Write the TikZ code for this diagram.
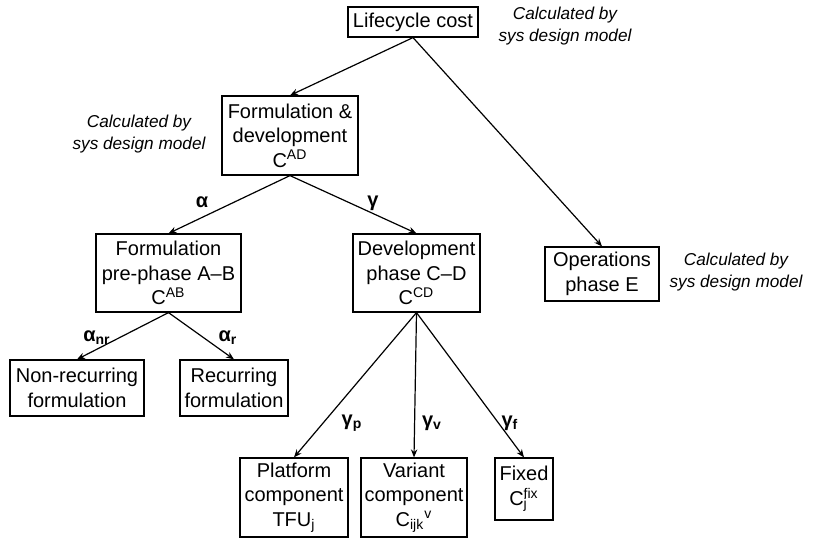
\documentclass[tikz,border=0pt]{standalone}
\usepackage{fontspec}
\setmainfont{Liberation Sans}
\usepackage{tikz}
\usetikzlibrary{arrows.meta}
\tikzset{
  costbox/.style={draw, line width=0.6pt, inner sep=0pt, align=center,
    font=\fontsize{10}{12.25}\selectfont},
  calcnote/.style={align=center, font=\fontsize{8.6}{11}\selectfont\itshape},
  share/.style={font=\fontsize{10}{12}\selectfont\bfseries},
  costarrow/.style={line width=0.6pt, -{Stealth[length=4pt,width=3.2pt]}}
}

\begin{document}
\begin{tikzpicture}[x=0.5pt,y=-0.5pt]
\useasboundingbox (0,0) rectangle (814,540);
\node[costbox, minimum width=65pt, minimum height=15pt] (life) at (413,22) {Lifecycle cost};
\node[costbox, minimum width=68pt, minimum height=39.5pt] (fd) at (290,135.5) {Formulation \&\\development\\C\textsuperscript{AD}};
\node[costbox, minimum width=72.5pt, minimum height=39pt] (ab) at (168.5,273) {Formulation\\pre-phase A–B\\C\textsuperscript{AB}};
\node[costbox, minimum width=63.5pt, minimum height=39pt] (cd) at (416.5,273) {Development\\phase C–D\\C\textsuperscript{CD}};
\node[costbox, minimum width=57pt, minimum height=27pt] (ops) at (602,274) {Operations\\phase E};
\node[costbox, minimum width=67pt, minimum height=28pt] (nr) at (77,388) {Non-recurring\\formulation};
\node[costbox, minimum width=54pt, minimum height=28pt] (rec) at (234,388) {Recurring\\formulation};
\node[costbox, minimum width=54pt, minimum height=39.5pt] (plat) at (294,497.5) {Platform\\component\\TFU\textsubscript{j}};
\node[costbox, minimum width=53pt, minimum height=39.5pt] (var) at (414,497.5) {Variant\\component\\C\textsubscript{ijk}\textsuperscript{v}};
\node[costbox, minimum width=29pt, minimum height=31pt] (fix) at (524,489) {Fixed\\C\rlap{\textsubscript{j}}\textsuperscript{fix}};

\node[calcnote] (calctop) at (565,26) {Calculated by\\sys design model};
\node[calcnote] (calcleft) at (139,134) {Calculated by\\sys design model};
\node[calcnote] (calcright) at (736,272) {Calculated by\\sys design model};

\draw[costarrow] (life.south) -- (fd.north);
\draw[costarrow] (life.south) -- (ops.north);
\draw[costarrow] (fd.south) -- (ab.north);
\draw[costarrow] (fd.south) -- (cd.north);
\draw[costarrow] (ab.south) -- (nr.north);
\draw[costarrow] (ab.south) -- (rec.north);
\draw[costarrow] (cd.south) -- (plat.north);
\draw[costarrow] (cd.south) -- (var.north);
\draw[costarrow] (cd.south) -- (fix.north);

\node[share] (sa) at (202,202) {α};
\node[share] (sg) at (373,203) {γ};
\node[share] (sanr) at (97,338) {α\textsubscript{nr}};
\node[share] (sar) at (228,338) {α\textsubscript{r}};
\node[share] (sgp) at (352,423) {γ\textsubscript{p}};
\node[share] (sgv) at (432,423) {γ\textsubscript{v}};
\node[share] (sgf) at (510,423) {γ\textsubscript{f}};
\end{tikzpicture}
\end{document}
